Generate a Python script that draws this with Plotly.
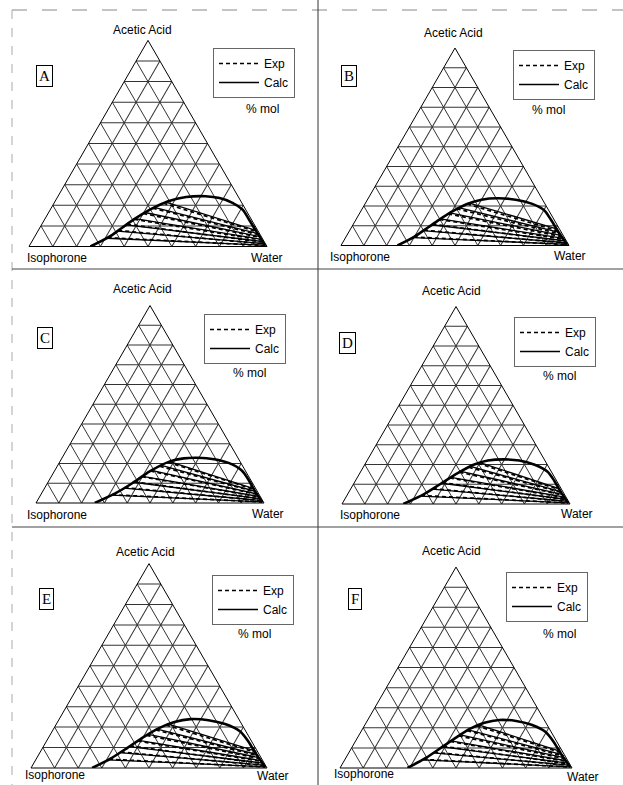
import plotly.graph_objects as go

FIG_W, FIG_H = 623, 785

# ---------------- text ----------------
PANELS = ["A", "B", "C", "D", "E", "F"]
TOP_LABEL = "Acetic Acid"
LEFT_LABEL = "Isophorone"
RIGHT_LABEL = "Water"
EXP_NAME = "Exp"
CALC_NAME = "Calc"
UNIT_LABEL = "% mol"

# ---------------- data (mole fractions: a = acetic acid, c = water) ----------------
# binodal curves (calculated)
A_bin_a = [0.000, 0.045, 0.090, 0.130, 0.180, 0.220, 0.240, 0.244, 0.235, 0.212, 0.179, 0.130, 0.070, 0.004]
A_bin_c = [0.258, 0.312, 0.345, 0.374, 0.420, 0.475, 0.540, 0.620, 0.683, 0.749, 0.808, 0.860, 0.922, 0.992]
B_bin_a = [0.000, 0.045, 0.090, 0.130, 0.175, 0.210, 0.232, 0.239, 0.232, 0.212, 0.180, 0.130, 0.065, 0.004]
B_bin_c = [0.248, 0.300, 0.335, 0.365, 0.405, 0.448, 0.500, 0.570, 0.650, 0.730, 0.800, 0.856, 0.923, 0.992]
C_bin_a = [0.000, 0.051, 0.100, 0.161, 0.212, 0.226, 0.229, 0.222, 0.203, 0.165, 0.118, 0.060, 0.004]
C_bin_c = [0.258, 0.326, 0.372, 0.420, 0.484, 0.535, 0.595, 0.670, 0.743, 0.820, 0.873, 0.930, 0.992]
D_bin_a = [0.000, 0.050, 0.100, 0.155, 0.200, 0.220, 0.226, 0.220, 0.200, 0.165, 0.118, 0.060, 0.004]
D_bin_c = [0.269, 0.335, 0.380, 0.428, 0.480, 0.530, 0.596, 0.668, 0.742, 0.818, 0.872, 0.930, 0.992]
E_bin_a = [0.000, 0.050, 0.100, 0.150, 0.195, 0.225, 0.239, 0.234, 0.215, 0.180, 0.130, 0.065, 0.004]
E_bin_c = [0.259, 0.318, 0.360, 0.400, 0.445, 0.495, 0.556, 0.635, 0.715, 0.795, 0.856, 0.923, 0.992]
F_bin_a = [0.000, 0.050, 0.100, 0.150, 0.195, 0.225, 0.239, 0.234, 0.215, 0.180, 0.130, 0.065, 0.004]
F_bin_c = [0.291, 0.345, 0.385, 0.423, 0.462, 0.510, 0.567, 0.642, 0.718, 0.795, 0.856, 0.923, 0.992]

# tie lines: (acid_org, water_org, acid_aq, water_aq)
A_tie_calc = [(0.040, 0.306, 0.006, 0.988), (0.075, 0.334, 0.014, 0.980), (0.105, 0.356, 0.024, 0.970),
              (0.135, 0.378, 0.035, 0.959), (0.165, 0.405, 0.048, 0.946), (0.190, 0.431, 0.062, 0.932),
              (0.215, 0.467, 0.078, 0.916)]
A_tie_exp = [(0.043, 0.309, 0.005, 0.990), (0.078, 0.336, 0.012, 0.983), (0.108, 0.358, 0.021, 0.973),
             (0.132, 0.376, 0.031, 0.963), (0.160, 0.400, 0.044, 0.950), (0.186, 0.427, 0.057, 0.937),
             (0.210, 0.460, 0.072, 0.922)]
B_tie_calc = [(0.040, 0.296, 0.006, 0.988), (0.075, 0.322, 0.014, 0.980), (0.105, 0.344, 0.024, 0.970),
              (0.135, 0.369, 0.036, 0.958), (0.165, 0.395, 0.050, 0.944), (0.192, 0.420, 0.065, 0.929),
              (0.215, 0.455, 0.082, 0.912)]
B_tie_exp = [(0.043, 0.298, 0.005, 0.990), (0.078, 0.325, 0.012, 0.983), (0.108, 0.347, 0.021, 0.973),
             (0.132, 0.366, 0.031, 0.963), (0.160, 0.390, 0.044, 0.950), (0.186, 0.414, 0.057, 0.937),
             (0.210, 0.448, 0.072, 0.922)]
C_tie_calc = [(0.040, 0.311, 0.006, 0.988), (0.075, 0.348, 0.013, 0.981), (0.105, 0.376, 0.022, 0.972),
              (0.135, 0.400, 0.033, 0.961), (0.165, 0.424, 0.045, 0.949), (0.190, 0.455, 0.058, 0.936),
              (0.210, 0.481, 0.072, 0.922)]
C_tie_exp = [(0.042, 0.313, 0.005, 0.990), (0.078, 0.350, 0.012, 0.983), (0.107, 0.378, 0.021, 0.973),
             (0.133, 0.398, 0.031, 0.963), (0.162, 0.421, 0.043, 0.951), (0.186, 0.450, 0.055, 0.939),
             (0.206, 0.476, 0.068, 0.926)]
D_tie_calc = [(0.040, 0.322, 0.006, 0.988), (0.075, 0.358, 0.014, 0.980), (0.105, 0.384, 0.024, 0.970),
              (0.135, 0.410, 0.035, 0.959), (0.165, 0.439, 0.048, 0.946), (0.190, 0.468, 0.062, 0.932),
              (0.210, 0.500, 0.077, 0.917)]
D_tie_exp = [(0.043, 0.325, 0.005, 0.990), (0.078, 0.360, 0.012, 0.983), (0.108, 0.386, 0.022, 0.972),
             (0.132, 0.407, 0.032, 0.962), (0.161, 0.435, 0.044, 0.950), (0.186, 0.463, 0.057, 0.937),
             (0.206, 0.494, 0.071, 0.923)]
E_tie_calc = [(0.040, 0.306, 0.006, 0.988), (0.075, 0.339, 0.014, 0.980), (0.105, 0.364, 0.024, 0.970),
              (0.135, 0.388, 0.036, 0.958), (0.165, 0.415, 0.050, 0.944), (0.190, 0.440, 0.065, 0.929),
              (0.215, 0.475, 0.082, 0.912)]
E_tie_exp = [(0.043, 0.309, 0.005, 0.990), (0.078, 0.342, 0.012, 0.983), (0.108, 0.366, 0.021, 0.973),
             (0.132, 0.386, 0.032, 0.962), (0.160, 0.410, 0.045, 0.949), (0.186, 0.436, 0.059, 0.935),
             (0.210, 0.468, 0.075, 0.919)]
F_tie_calc = [(0.040, 0.334, 0.006, 0.988), (0.075, 0.365, 0.014, 0.980), (0.105, 0.389, 0.024, 0.970),
              (0.135, 0.411, 0.036, 0.958), (0.165, 0.436, 0.050, 0.944), (0.190, 0.458, 0.065, 0.929),
              (0.215, 0.490, 0.082, 0.912)]
F_tie_exp = [(0.043, 0.337, 0.005, 0.990), (0.078, 0.367, 0.012, 0.983), (0.108, 0.391, 0.021, 0.973),
             (0.132, 0.409, 0.032, 0.962), (0.160, 0.432, 0.045, 0.949), (0.186, 0.455, 0.059, 0.935),
             (0.210, 0.484, 0.075, 0.919)]

BINODAL_A = {"A": A_bin_a, "B": B_bin_a, "C": C_bin_a, "D": D_bin_a, "E": E_bin_a, "F": F_bin_a}
BINODAL_C = {"A": A_bin_c, "B": B_bin_c, "C": C_bin_c, "D": D_bin_c, "E": E_bin_c, "F": F_bin_c}
TIE_CALC = {"A": A_tie_calc, "B": B_tie_calc, "C": C_tie_calc, "D": D_tie_calc, "E": E_tie_calc, "F": F_tie_calc}
TIE_EXP = {"A": A_tie_exp, "B": B_tie_exp, "C": C_tie_exp, "D": D_tie_exp, "E": E_tie_exp, "F": F_tie_exp}

# ---------------- layout (pixel positions) ----------------
# triangle: left corner x, right corner x, base y
TRI = {"A": (29, 267, 246.5), "B": (341, 569, 245.5), "C": (36, 264, 503),
       "D": (342, 570, 504), "E": (31, 267, 768), "F": (340, 572, 768)}
TITLE_POS = {"A": (142, 30), "B": (453, 33), "C": (142, 289), "D": (451, 291), "E": (145, 552), "F": (451, 551)}
LEFT_POS = {"A": (57, 258), "B": (360, 257), "C": (57, 515), "D": (370, 515), "E": (55, 775), "F": (364, 774)}
RIGHT_POS = {"A": (267, 258), "B": (570, 256), "C": (268, 514), "D": (577, 514), "E": (273, 776), "F": (583, 777)}
LETTER_POS = {"A": (44.5, 76), "B": (349, 76), "C": (45, 338), "D": (347, 343), "E": (46, 599), "F": (355, 599)}
LEGEND_POS = {"A": (213, 48), "B": (513, 50), "C": (204, 314), "D": (514, 317), "E": (212, 575), "F": (506, 572)}
UNIT_POS = {"A": (262, 109), "B": (548, 110), "C": (249, 373), "D": (559, 376), "E": (254, 634), "F": (559, 634)}

SQ3 = 3 ** 0.5


def px(x):
    return x / FIG_W


def py(y):
    return 1 - y / FIG_H


def abc(a_list, c_list):
    b_list = [None if (a is None or c is None) else 1 - a - c for a, c in zip(a_list, c_list)]
    return a_list, b_list, c_list


def tie_arrays(ties):
    a, c = [], []
    for ao, co, aq, cq in ties:
        a += [ao, aq, None]
        c += [co, cq, None]
    return a, c


fig = go.Figure()
layout_extra = {}
annotations = []
grid_axis = dict(showticklabels=False, ticks="", tick0=0, dtick=0.1, showgrid=True,
                 gridcolor="#333333", gridwidth=0.7, showline=True, linecolor="black",
                 linewidth=1, min=0, title=dict(text=""))
FONT_SANS = "Liberation Sans, Arial, sans-serif"

for i, p in enumerate(PANELS):
    sub = "ternary" if i == 0 else f"ternary{i + 1}"
    leg = "legend" if i == 0 else f"legend{i + 1}"
    x0, x1, yb = TRI[p]
    w = x1 - x0
    h = w * SQ3 / 2
    layout_extra[sub] = dict(
        domain=dict(x=[px(x0), px(x1)], y=[py(yb), py(yb - h)]),
        sum=1, bgcolor="white",
        aaxis=grid_axis, baxis=grid_axis, caxis=grid_axis,
    )
    # binodal
    a, b, c = abc(BINODAL_A[p], BINODAL_C[p])
    fig.add_trace(go.Scatterternary(a=a, b=b, c=c, mode="lines", subplot=sub, showlegend=False,
                                    line=dict(color="black", width=2.6, shape="spline", smoothing=0.8),
                                    hoverinfo="skip"))
    # exp tie lines
    ta, tc = tie_arrays(TIE_EXP[p])
    a, b, c = abc(ta, tc)
    fig.add_trace(go.Scatterternary(a=a, b=b, c=c, mode="lines", subplot=sub, name=EXP_NAME,
                                    legend=leg, connectgaps=False,
                                    line=dict(color="black", width=1.7, dash="4px,3px")))
    # calc tie lines
    ta, tc = tie_arrays(TIE_CALC[p])
    a, b, c = abc(ta, tc)
    fig.add_trace(go.Scatterternary(a=a, b=b, c=c, mode="lines", subplot=sub, name=CALC_NAME,
                                    legend=leg, connectgaps=False,
                                    line=dict(color="black", width=1.3)))
    lx, ly = LEGEND_POS[p]
    layout_extra[leg] = dict(x=px(lx), y=py(ly), xanchor="left", yanchor="top",
                             bordercolor="#666", borderwidth=1, bgcolor="rgba(255,255,255,0)",
                             font=dict(family=FONT_SANS, size=12, color="black"),
                             itemwidth=40, tracegroupgap=0)

    for txt, pos in ((TOP_LABEL, TITLE_POS[p]), (LEFT_LABEL, LEFT_POS[p]),
                     (RIGHT_LABEL, RIGHT_POS[p]), (UNIT_LABEL, UNIT_POS[p])):
        annotations.append(dict(text=txt, x=px(pos[0]), y=py(pos[1]), xref="paper", yref="paper",
                                xanchor="center", yanchor="middle", showarrow=False,
                                font=dict(family=FONT_SANS, size=12, color="black")))
    lx, ly = LETTER_POS[p]
    annotations.append(dict(text=p, x=px(lx), y=py(ly), xref="paper", yref="paper",
                            xanchor="center", yanchor="middle", showarrow=False,
                            bordercolor="black", borderwidth=1, borderpad=2,
                            font=dict(family="Liberation Serif, Times New Roman, serif", size=15, color="black")))

shapes = [
    dict(type="line", xref="paper", yref="paper", x0=px(12), x1=px(623), y0=py(10), y1=py(10),
         line=dict(color="#888", width=1, dash="longdash")),
    dict(type="line", xref="paper", yref="paper", x0=px(12), x1=px(12), y0=py(10), y1=py(785),
         line=dict(color="#aaa", width=1, dash="dash")),
    dict(type="line", xref="paper", yref="paper", x0=px(318), x1=px(318), y0=py(0), y1=py(785),
         line=dict(color="#333", width=1)),
    dict(type="line", xref="paper", yref="paper", x0=px(12), x1=px(623), y0=py(269), y1=py(269),
         line=dict(color="#444", width=1)),
    dict(type="line", xref="paper", yref="paper", x0=px(12), x1=px(623), y0=py(527), y1=py(527),
         line=dict(color="#444", width=1)),
]

fig.update_layout(width=FIG_W, height=FIG_H, margin=dict(l=0, r=0, t=0, b=0),
                  paper_bgcolor="white", plot_bgcolor="white",
                  annotations=annotations, shapes=shapes, **layout_extra)

fig.write_html("out.html")
